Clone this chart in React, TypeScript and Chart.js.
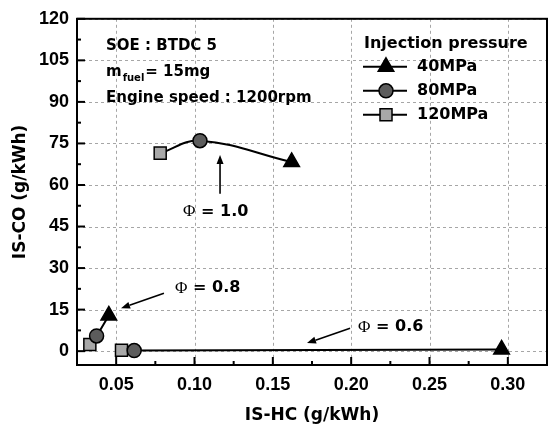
import { useEffect, useRef } from "react";
import { Chart, registerables } from "chart.js";
import { drawPoint } from "chart.js/helpers";

Chart.register(...registerables);

// ---- data ----
const xTickValues = [0.05, 0.1, 0.15, 0.2, 0.25, 0.3];
const yTickValues = [0, 15, 30, 45, 60, 75, 90, 105, 120];
const xMinorTicks = [0.075, 0.125, 0.175, 0.225, 0.275];
const yMinorTicks = [7.5, 22.5, 37.5, 52.5, 67.5, 82.5, 97.5, 112.5];

const seriesNames = ["40MPa", "80MPa", "120MPa"];
const phiValues = ["0.6", "0.8", "1.0"];
// IS-HC (x) / IS-CO (y), order of points: Φ=0.6, Φ=0.8, Φ=1.0
const hc40 = [0.296, 0.0453, 0.162];
const co40 = [0.6, 12.9, 68.3];
const hc80 = [0.0615, 0.0375, 0.1035];
const co80 = [0.2, 5.5, 76.0];
const hc120 = [0.0534, 0.0332, 0.0781];
const co120 = [0.3, 2.4, 71.5];

const infoLines = ["SOE : BTDC 5", "m|fuel|= 15mg", "Engine speed : 1200rpm"];
const legendTitle = "Injection pressure";
const xTitle = "IS-HC (g/kWh)";
const yTitle = "IS-CO (g/kWh)";

// ---- styles ----
const seriesStyles = [
  { pointStyle: "triangle", radius: 9, fill: "#000000" },
  { pointStyle: "circle", radius: 7, fill: "#5c5c5c" },
  { pointStyle: "rect", radius: 8.5, fill: "#a8a8a8" },
];

// annotation placement in data coordinates
const annotations = [
  { phi: 0, text: [0.2044, 8.65], from: [0.1993, 8.3], to: [0.1718, 2.9] },
  { phi: 1, text: [0.0876, 22.7], from: [0.0805, 20.9], to: [0.0531, 15.5] },
  { phi: 2, text: [0.0927, 50.3], from: [0.1163, 56.8], to: [0.1163, 70.8] },
];

const sansBold = "bold 15px 'DejaVu Sans'";

function drawArrow(ctx: CanvasRenderingContext2D, x1: number, y1: number, x2: number, y2: number) {
  const ang = Math.atan2(y2 - y1, x2 - x1);
  const len = 9;
  const hw = 3.5;
  const bx = x2 - Math.cos(ang) * len;
  const by = y2 - Math.sin(ang) * len;
  ctx.beginPath();
  ctx.moveTo(x1, y1);
  ctx.lineTo(bx, by);
  ctx.lineWidth = 1.6;
  ctx.stroke();
  ctx.beginPath();
  ctx.moveTo(x2, y2);
  ctx.lineTo(bx + Math.sin(ang) * hw, by - Math.cos(ang) * hw);
  ctx.lineTo(bx - Math.sin(ang) * hw, by + Math.cos(ang) * hw);
  ctx.closePath();
  ctx.fill();
}

const decorPlugin = {
  id: "decor",
  beforeDatasetsDraw(chart: any) {
    const { ctx, chartArea: ca, scales } = chart;
    const x = scales.x;
    const y = scales.y;
    ctx.save();
    ctx.strokeStyle = "#a6a6a6";
    ctx.lineWidth = 1;
    ctx.setLineDash([3, 3]);
    for (const v of xTickValues) {
      const px = Math.round(x.getPixelForValue(v)) + 0.5;
      ctx.beginPath();
      ctx.moveTo(px, ca.top);
      ctx.lineTo(px, ca.bottom);
      ctx.stroke();
    }
    for (const v of yTickValues) {
      const py = Math.round(y.getPixelForValue(v)) + 0.5;
      ctx.beginPath();
      ctx.moveTo(ca.left, py);
      ctx.lineTo(ca.right, py);
      ctx.stroke();
    }
    ctx.restore();
  },
  afterDatasetsDraw(chart: any) {
    const { ctx, chartArea: ca, scales } = chart;
    const x = scales.x;
    const y = scales.y;
    ctx.save();
    ctx.setLineDash([]);
    ctx.strokeStyle = "#000";
    ctx.fillStyle = "#000";
    // frame
    ctx.lineWidth = 2;
    ctx.strokeRect(ca.left, ca.top, ca.right - ca.left, ca.bottom - ca.top);
    // inward ticks
    const tick = (px: number, py: number, dx: number, dy: number) => {
      ctx.beginPath();
      ctx.moveTo(px, py);
      ctx.lineTo(px + dx, py + dy);
      ctx.stroke();
    };
    for (const v of xTickValues) tick(x.getPixelForValue(v), ca.bottom, 0, -8);
    for (const v of xMinorTicks) tick(x.getPixelForValue(v), ca.bottom, 0, -4);
    for (const v of yTickValues) tick(ca.left, y.getPixelForValue(v), 8, 0);
    for (const v of yMinorTicks) tick(ca.left, y.getPixelForValue(v), 4, 0);

    // info text
    ctx.textBaseline = "middle";
    ctx.textAlign = "left";
    const infoX = ca.left + 29;
    const infoY = [ca.top + 27, ca.top + 53, ca.top + 79];
    infoLines.forEach((line, i) => {
      if (line.includes("|")) {
        const [a, sub, b] = line.split("|");
        ctx.font = sansBold;
        ctx.fillText(a, infoX, infoY[i]);
        const wa = ctx.measureText(a).width;
        ctx.font = "bold 10px 'DejaVu Sans'";
        ctx.fillText(sub, infoX + wa + 1, infoY[i] + 7);
        const ws = ctx.measureText(sub).width;
        ctx.font = sansBold;
        ctx.fillText(b, infoX + wa + ws + 2, infoY[i]);
      } else {
        ctx.font = sansBold;
        ctx.fillText(line, infoX, infoY[i]);
      }
    });

    // legend
    const lx = ca.right - 183;
    ctx.font = "bold 16px 'DejaVu Sans'";
    ctx.fillText(legendTitle, lx, ca.top + 25);
    seriesNames.forEach((name, i) => {
      const ry = ca.top + 48 + i * 24;
      ctx.lineWidth = 2;
      ctx.strokeStyle = "#000";
      ctx.beginPath();
      ctx.moveTo(lx - 1, ry);
      ctx.lineTo(lx + 43, ry);
      ctx.stroke();
      const st = seriesStyles[i];
      ctx.fillStyle = st.fill;
      ctx.lineWidth = 1.5;
      drawPoint(ctx, { pointStyle: st.pointStyle as any, radius: st.radius, rotation: 0, borderWidth: 1.5 }, lx + 22, ry);
      ctx.fillStyle = "#000";
      ctx.font = "bold 16px 'DejaVu Sans'";
      ctx.fillText(name, lx + 53, ry);
    });

    // Φ annotations
    for (const a of annotations) {
      const tx = x.getPixelForValue(a.text[0]);
      const ty = y.getPixelForValue(a.text[1]);
      ctx.font = "17px 'Liberation Serif'";
      ctx.fillText("Φ", tx, ty);
      const wp = ctx.measureText("Φ").width;
      ctx.font = "bold 16px 'DejaVu Sans'";
      ctx.fillText(" = " + phiValues[a.phi], tx + wp, ty);
      drawArrow(
        ctx,
        x.getPixelForValue(a.from[0]),
        y.getPixelForValue(a.from[1]),
        x.getPixelForValue(a.to[0]),
        y.getPixelForValue(a.to[1])
      );
    }
    ctx.restore();
  },
};

export default function App() {
  const ref = useRef<HTMLCanvasElement | null>(null);
  useEffect(() => {
    if (!ref.current) return;
    const hcs = [hc40, hc80, hc120];
    const cos = [co40, co80, co120];
    const markerSets = seriesNames.map((name, i) => ({
      type: "scatter" as const,
      label: name,
      data: hcs[i].map((v, k) => ({ x: v, y: cos[i][k] })),
      showLine: false,
      pointStyle: seriesStyles[i].pointStyle,
      pointRadius: seriesStyles[i].radius,
      pointBackgroundColor: seriesStyles[i].fill,
      pointBorderColor: "#000",
      pointBorderWidth: 1.5,
      order: 0,
    }));
    const phiSets = phiValues.map((phi, k) => ({
      type: "line" as const,
      label: "Φ = " + phi,
      data: [0, 1, 2]
        .map((i) => ({ x: hcs[i][k], y: cos[i][k] }))
        .sort((a, b) => a.x - b.x),
      borderColor: "#000",
      borderWidth: 2,
      pointRadius: 0,
      tension: 0.4,
      fill: false,
      order: 10,
    }));

    const chart = new Chart(ref.current, {
      type: "scatter",
      data: { datasets: [...markerSets, ...phiSets] as any },
      plugins: [decorPlugin as any],
      options: {
        animation: false,
        responsive: false,
        devicePixelRatio: 1,
        layout: { padding: { top: 17, right: 4, left: 0, bottom: 0 }, autoPadding: false },
        plugins: { legend: { display: false }, tooltip: { enabled: false } },
        scales: {
          x: {
            type: "linear",
            min: 0.025,
            max: 0.325,
            grid: { display: false, drawTicks: false },
            border: { display: false },
            afterBuildTicks: (s: any) => {
              s.ticks = xTickValues.map((v) => ({ value: v }));
            },
            afterFit: (s: any) => {
              s.height = 61;
            },
            ticks: {
              padding: 9,
              color: "#000",
              font: { family: "'Liberation Sans'", size: 18, weight: "bold" },
              callback: (v: any) => Number(v).toFixed(2),
              maxRotation: 0,
            },
            title: {
              display: true,
              text: xTitle,
              color: "#000",
              font: { family: "'DejaVu Sans'", size: 17, weight: "bold" },
              padding: { top: 0, bottom: 0 },
            },
          },
          y: {
            type: "linear",
            min: -5,
            max: 120,
            grid: { display: false, drawTicks: false },
            border: { display: false },
            afterBuildTicks: (s: any) => {
              s.ticks = yTickValues.map((v) => ({ value: v }));
            },
            afterFit: (s: any) => {
              s.width = 77;
            },
            ticks: {
              padding: 8,
              color: "#000",
              font: { family: "'Liberation Sans'", size: 18, weight: "bold" },
            },
            title: {
              display: true,
              text: yTitle,
              color: "#000",
              font: { family: "'DejaVu Sans'", size: 17, weight: "bold" },
              padding: { top: 10, bottom: 0 },
            },
          },
        },
      },
    });
    return () => chart.destroy();
  }, []);

  return (
    <div style={{ position: "fixed", left: 0, top: 0, width: 551, height: 426, background: "#fff" }}>
      <canvas ref={ref} width={551} height={426} />
    </div>
  );
}
